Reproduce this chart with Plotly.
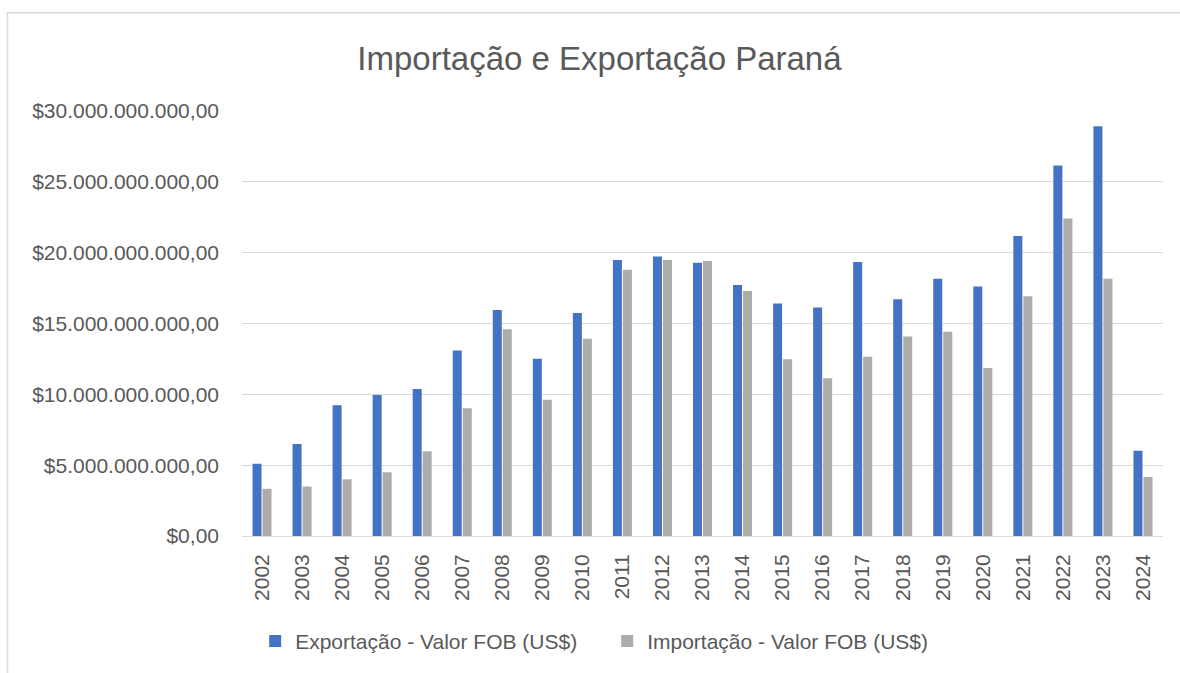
import plotly.graph_objects as go

years = [str(y) for y in range(2002, 2025)]
exportacao = [5.10e9, 6.49e9, 9.23e9, 9.96e9, 10.38e9, 13.10e9, 15.96e9, 12.52e9,
              15.75e9, 19.48e9, 19.73e9, 19.29e9, 17.72e9, 16.41e9, 16.13e9, 19.34e9,
              16.71e9, 18.16e9, 17.62e9, 21.17e9, 26.16e9, 28.92e9, 6.02e9]
importacao = [3.33e9, 3.49e9, 4.00e9, 4.50e9, 5.98e9, 9.02e9, 14.60e9, 9.61e9,
              13.92e9, 18.80e9, 19.48e9, 19.41e9, 17.30e9, 12.47e9, 11.13e9, 12.66e9,
              14.09e9, 14.42e9, 11.86e9, 16.92e9, 22.41e9, 18.16e9, 4.17e9]
y_tickvals = [0, 5e9, 10e9, 15e9, 20e9, 25e9, 30e9]
y_ticktext = ["$0,00", "$5.000.000.000,00", "$10.000.000.000,00", "$15.000.000.000,00",
              "$20.000.000.000,00", "$25.000.000.000,00", "$30.000.000.000,00"]

FONT = "Liberation Sans, Arial, sans-serif"
TXT = "#595959"

fig = go.Figure()
fig.add_trace(go.Bar(x=years, y=exportacao, name="Exportação - Valor FOB (US$)",
                     marker=dict(color="#4472C4", line=dict(width=0))))
fig.add_trace(go.Bar(x=years, y=importacao, name="Importação - Valor FOB (US$)",
                     marker=dict(color="#AEABAB", line=dict(width=0))))

fig.update_layout(
    width=1180, height=673,
    margin=dict(l=242, r=17, t=111, b=136),
    paper_bgcolor="white", plot_bgcolor="white",
    barmode="group", bargap=0.5, bargroupgap=0.1,
    font=dict(family=FONT, color=TXT, size=21),
    title=dict(text="Importação e Exportação Paraná", x=0.508, xref="container",
               xanchor="center", y=1 - 58 / 673, yref="container", yanchor="middle",
               font=dict(size=33, color=TXT, family=FONT)),
    legend=dict(orientation="h", x=0.3965, xanchor="center", y=-0.245, yanchor="middle",
                font=dict(size=21, color=TXT, family=FONT), itemwidth=30,
                entrywidth=307, entrywidthmode="pixels",
                bgcolor="rgba(0,0,0,0)"),
    showlegend=True,
    shapes=[dict(type="rect", xref="paper", yref="paper",
                 x0=-0.2546, x1=1.2, y0=-0.5, y1=(537 - 12.5) / 426,
                 line=dict(color="#D9D9D9", width=1.5), fillcolor="rgba(0,0,0,0)",
                 layer="below")],
)
fig.update_xaxes(type="category", tickangle=-90, ticks="", showgrid=False,
                 showline=False, ticklabelstandoff=13,
                 tickfont=dict(size=21, color=TXT, family=FONT))
fig.update_yaxes(range=[0, 30e9], tickvals=y_tickvals, ticktext=y_ticktext,
                 showgrid=True, gridcolor="#D9D9D9", gridwidth=1.3,
                 zeroline=True, zerolinecolor="#D9D9D9", zerolinewidth=1.3,
                 ticks="", ticklabelstandoff=22,
                 tickfont=dict(size=21, color=TXT, family=FONT))

fig.write_html("out.html", config={"displayModeBar": False},
               post_script="document.body.style.margin='0';")
